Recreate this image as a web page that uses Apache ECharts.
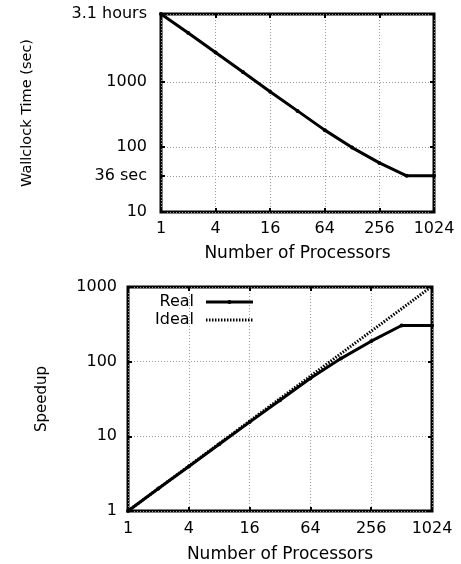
<!DOCTYPE html>
<html>
<head>
<meta charset="utf-8">
<script src="https://cdn.jsdelivr.net/npm/echarts@6/dist/echarts.min.js"></script>
<style>
html,body{margin:0;padding:0;background:#fff;}
#chart{width:461px;height:564px;}
</style>
</head>
<body>
<div id="chart"></div>
<script>
// ---- data ----
const processors = [1, 2, 4, 8, 16, 32, 64, 128, 256, 512, 1024];
const wallclockSec = [11160, 5700, 2850, 1430, 710, 360, 182, 98, 57, 36, 36];
const speedupReal = [1, 2, 3.95, 7.85, 15.5, 30.5, 60, 110, 188, 305, 305];
const speedupIdeal = [1, 2, 4, 8, 16, 32, 64, 128, 256, 512, 1024];

const xTickValues = [1, 4, 16, 64, 256, 1024];
const timeTickValues = [10, 36, 100, 1000, 11160];
const timeTickLabels = ['10', '36 sec', '100', '1000', '3.1 hours'];
const speedTickValues = [1, 10, 100, 1000];
const speedTickLabels = ['1', '10', '100', '1000'];

// ---- chart ----
const FONT = 'DejaVu Sans';
const labelStyle = {fontFamily: FONT, fontSize: 16, color: '#000'};
const gridLine = {show: true, lineStyle: {color: '#9a9a9a', width: 1, type: [1, 2]}};

function nearestLabel(values, labels, v) {
  let best = 0;
  values.forEach((t, i) => {
    if (Math.abs(Math.log(t) - Math.log(v)) < Math.abs(Math.log(values[best]) - Math.log(v))) best = i;
  });
  return labels[best];
}

function xAxisFor(gridIndex, margin, nameGap) {
  return {
    type: 'log', logBase: 2, min: 1, max: 1024, gridIndex: gridIndex,
    name: 'Number of Processors', nameLocation: 'middle', nameGap: nameGap,
    nameTextStyle: {fontFamily: FONT, fontSize: 17, color: '#000'},
    axisLine: {show: false},
    axisTick: {show: true, inside: true, length: 4, lineStyle: {color: '#000', width: 2}, customValues: xTickValues},
    axisLabel: Object.assign({margin: margin, customValues: xTickValues, formatter: v => String(Math.round(v))}, labelStyle),
    splitLine: gridLine
  };
}
function xMirror(gridIndex) {
  return {
    type: 'log', logBase: 2, min: 1, max: 1024, gridIndex: gridIndex, position: 'top',
    axisLine: {show: false},
    axisTick: {show: true, inside: true, length: 4, lineStyle: {color: '#000', width: 2}, customValues: xTickValues},
    axisLabel: {show: false, customValues: xTickValues},
    splitLine: {show: false}
  };
}
function yMirror(gridIndex, min, max, vals) {
  return {
    type: 'log', logBase: 10, min: min, max: max, gridIndex: gridIndex, position: 'right',
    axisLine: {show: false},
    axisTick: {show: true, inside: true, length: 4, lineStyle: {color: '#000', width: 2}, customValues: vals},
    axisLabel: {show: false, customValues: vals},
    splitLine: {show: false}
  };
}

const chart = echarts.init(document.getElementById('chart'), null, {renderer: 'canvas'});
chart.setOption({
  animation: false,
  backgroundColor: '#fff',
  grid: [
    {left: 161, top: 14, width: 273, height: 198, show: true, borderColor: '#000', borderWidth: 3, backgroundColor: 'transparent'},
    {left: 128, top: 287, width: 304, height: 225, show: true, borderColor: '#000', borderWidth: 3, backgroundColor: 'transparent'}
  ],
  legend: {
    data: [
      {name: 'Real'},
      {name: 'Ideal', itemStyle: {color: 'rgba(0,0,0,0)', borderWidth: 0}}
    ],
    orient: 'vertical', align: 'right',
    left: 155, top: 293, padding: 0, itemGap: 0,
    itemWidth: 47, itemHeight: 5,
    lineStyle: {width: 3},
    textStyle: {fontFamily: FONT, fontSize: 16, color: '#000', padding: [0, 7, 0, 0], lineHeight: 18}
  },
  xAxis: [xAxisFor(0, 9, 33), xAxisFor(1, 10, 35), xMirror(0), xMirror(1)],
  yAxis: [
    {
      type: 'log', logBase: 10, min: 10, max: 11160, gridIndex: 0,
      name: 'Wallclock Time (sec)', nameLocation: 'middle', nameGap: 126, nameRotate: 90,
      nameTextStyle: {fontFamily: FONT, fontSize: 14.5, color: '#000'},
      axisLine: {show: false},
      axisTick: {show: true, inside: true, length: 4, lineStyle: {color: '#000', width: 2}, customValues: timeTickValues},
      axisLabel: Object.assign({margin: 14, customValues: timeTickValues,
        formatter: v => nearestLabel(timeTickValues, timeTickLabels, v)}, labelStyle),
      splitLine: gridLine
    },
    {
      type: 'log', logBase: 10, min: 1, max: 1000, gridIndex: 1,
      name: 'Speedup', nameLocation: 'middle', nameGap: 78, nameRotate: 90,
      nameTextStyle: {fontFamily: FONT, fontSize: 15, color: '#000'},
      axisLine: {show: false},
      axisTick: {show: true, inside: true, length: 4, lineStyle: {color: '#000', width: 2}, customValues: speedTickValues},
      axisLabel: Object.assign({margin: 11, customValues: speedTickValues,
        formatter: v => nearestLabel(speedTickValues, speedTickLabels, v)}, labelStyle),
      splitLine: gridLine
    },
    yMirror(0, 10, 11160, timeTickValues),
    yMirror(1, 1, 1000, speedTickValues)
  ],
  series: [
    {
      name: 'Time', type: 'line', xAxisIndex: 0, yAxisIndex: 0,
      data: processors.map((p, i) => [p, wallclockSec[i]]),
      lineStyle: {color: '#000', width: 3}, itemStyle: {color: '#000'},
      symbol: 'circle', symbolSize: 4, showSymbol: true, clip: false
    },
    {
      name: 'Ideal', type: 'line', xAxisIndex: 1, yAxisIndex: 1,
      data: processors.map((p, i) => [p, speedupIdeal[i]]),
      lineStyle: {color: '#000', width: 3, type: [1.5, 1.5]}, itemStyle: {color: '#000'},
      symbol: 'none', clip: false
    },
    {
      name: 'Real', type: 'line', xAxisIndex: 1, yAxisIndex: 1,
      data: processors.map((p, i) => [p, speedupReal[i]]),
      lineStyle: {color: '#000', width: 3}, itemStyle: {color: '#000'},
      symbol: 'circle', symbolSize: 4, showSymbol: true, clip: false
    }
  ]
});
</script>
</body>
</html>
